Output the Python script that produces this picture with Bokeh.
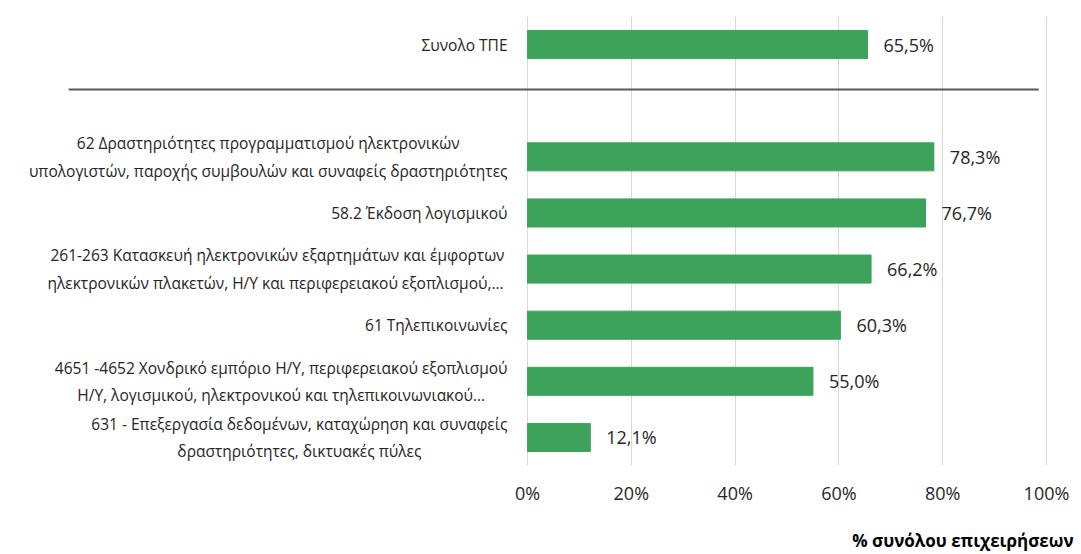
from bokeh.plotting import figure
from bokeh.layouts import column
from bokeh.models import Range1d, FixedTicker, PrintfTickFormatter, ColumnDataSource
from bokeh.core.properties import value
from bokeh.embed import file_html
from bokeh.resources import INLINE

categories = [
    "Συνολο ΤΠΕ",
    "62 Δραστηριότητες προγραμματισμού ηλεκτρονικών\nυπολογιστών, παροχής συμβουλών και συναφείς δραστηριότητες",
    "58.2 Έκδοση λογισμικού",
    "261-263 Κατασκευή ηλεκτρονικών εξαρτημάτων και έμφορτων\nηλεκτρονικών πλακετών, Η/Υ  και περιφερειακού εξοπλισμού,…",
    "61 Τηλεπικοινωνίες",
    "4651 -4652 Χονδρικό εμπόριο Η/Υ, περιφερειακού εξοπλισμού\nΗ/Υ, λογισμικού, ηλεκτρονικού και τηλεπικοινωνιακού…",
    "631 - Επεξεργασία δεδομένων, καταχώρηση και συναφείς\nδραστηριότητες, δικτυακές πύλες",
]
values = [65.5, 78.3, 76.7, 66.2, 60.3, 55.0, 12.1]
x_ticks = [0, 20, 40, 60, 80, 100]
axis_title = "% συνόλου επιχειρήσεων"

FONT = "Open Sans"
GREEN = "#3ea35a"

# slot positions: total row at top, one empty slot for the separator, then sectors
slots = [0.5] + [i + 2.5 for i in range(len(categories) - 1)]
labels = [f"{v:.1f}".replace(".", ",") + "%" for v in values]

src = ColumnDataSource(dict(y=slots, v=values, cat=categories, lab=labels,
                            zero=[0] * len(values)))

p = figure(width=1075, height=524, output_backend="svg", toolbar_location=None,
           x_range=Range1d(-101.54, 105.59), y_range=Range1d(8, 0),
           y_axis_type=None, min_border_left=0, min_border_right=0,
           min_border_top=16, min_border_bottom=59)
p.outline_line_color = None
p.ygrid.visible = False
p.xgrid.grid_line_color = "#d9d9d9"
p.xgrid.grid_line_width = 1

ax = p.xaxis[0]
ax.ticker = FixedTicker(ticks=x_ticks)
ax.formatter = PrintfTickFormatter(format="%d%%")
ax.axis_line_color = None
ax.major_tick_line_color = None
ax.minor_tick_line_color = None
ax.major_tick_out = 0
ax.major_tick_in = 0
ax.major_label_standoff = 15
ax.major_label_text_font = FONT
ax.major_label_text_font_size = "18px"
ax.major_label_text_color = "#262626"

p.hbar(y="y", left="zero", right="v", height=0.5, color=GREEN, source=src)

p.text(x="v", y="y", text="lab", source=src, x_offset=16,
       text_align="left", text_baseline="middle",
       text_font=value(FONT), text_font_size="18px", text_color="#262626")

p.text(x=-3.85, y="y", text="cat", source=src,
       text_align="center", text_baseline="middle", anchor="center_right",
       text_font=value(FONT), text_font_size="15.5px", text_color="#262626",
       text_line_height=1.25)

# separator between total and sectors
p.segment(x0=-88.4, y0=1.3, x1=98.5, y1=1.3, line_color="#595959", line_width=2)

# strip below the chart carrying the right-aligned axis title
p2 = figure(width=1075, height=30, output_backend="svg", toolbar_location=None,
            x_range=Range1d(0, 1075), y_range=Range1d(0, 30),
            x_axis_type=None, y_axis_type=None,
            min_border_left=0, min_border_right=0, min_border_top=0, min_border_bottom=0)
p2.outline_line_color = None
p2.grid.visible = False
p2.text(x=[1073], y=[14], text=[axis_title], text_align="right", text_baseline="middle",
        text_font=value(FONT), text_font_size="17px", text_font_style="bold",
        text_color="#000000")

layout = column(p, p2, spacing=0)

open("out.html", "w").write(file_html(layout, INLINE))
